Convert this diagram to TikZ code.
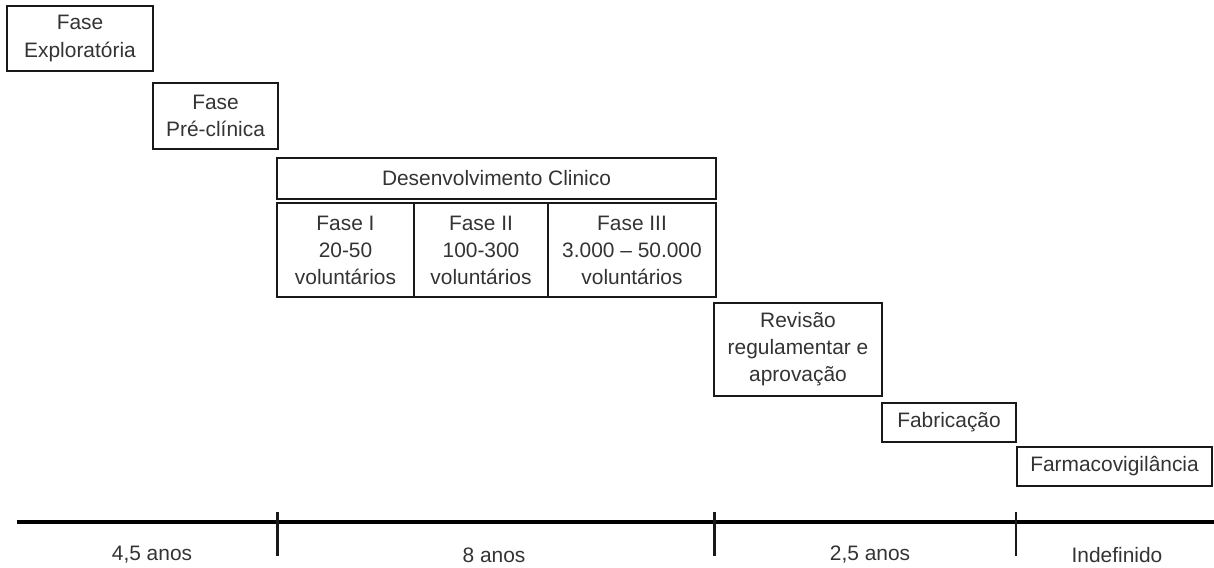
\documentclass[tikz,border=0pt]{standalone}
\usepackage{fontspec}
\setmainfont{Liberation Sans}
\usepackage{tikz}
\usetikzlibrary{positioning,calc}

\begin{document}
\begin{tikzpicture}[
    every node/.style={font=\fontsize{11.9}{15.4}\selectfont, text=black!80, align=center, inner sep=0pt},
    fase/.style={draw=black!90, line width=1.1pt},
    axis/.style={line width=2pt, black},
    tick/.style={line width=1.4pt, black!90},
    dur/.style={anchor=center}
]
\useasboundingbox (0,0) rectangle (24.28,-11.34);

% Fases iniciais
\node[fase, minimum width=2.92cm, minimum height=1.30cm] (expl) at (1.60,-0.77) {Fase\\Exploratória};
\node[fase, minimum width=2.50cm, minimum height=1.32cm] (pre)  at (4.31,-2.32) {Fase\\Pré-clínica};

% Desenvolvimento clinico
\node[fase, minimum width=8.78cm, minimum height=0.82cm] (desenv) at (9.93,-3.57) {Desenvolvimento Clinico};
\node[fase, minimum width=2.74cm, minimum height=1.88cm] (f1) at (6.91,-5.00) {Fase I\\20-50\\voluntários};
\node[fase, minimum width=2.68cm, minimum height=1.88cm] (f2) at (9.62,-5.00) {Fase II\\100-300\\voluntários};
\node[fase, minimum width=3.36cm, minimum height=1.88cm] (f3) at (12.64,-5.00) {Fase III\\3.000 -- 50.000\\voluntários};

% Fases finais
\node[fase, minimum width=3.36cm, minimum height=1.86cm] (rev)  at (15.96,-6.99) {Revisão\\regulamentar e\\aprovação};
\node[fase, minimum width=2.68cm, minimum height=0.78cm] (fab)  at (18.98,-8.45) {Fabricação};
\node[fase, minimum width=3.90cm, minimum height=0.78cm] (farm) at (22.29,-9.33) {Farmacovigilância};

% Linha do tempo
\coordinate (t0) at (0.34,-10.44);
\coordinate (t1) at (24.28,-10.44);
\draw[axis] (t0) -- (t1);
\foreach \x in {5.55,14.29,20.32}
    \draw[tick] (\x,-10.24) -- (\x,-11.12);

\node[dur] (d1) at (3.04,-11.10)  {4,5 anos};
\node[dur] (d2) at (9.88,-11.10)  {8 anos};
\node[dur] (d3) at (17.40,-11.10) {2,5 anos};
\node[dur] (d4) at (22.34,-11.10) {Indefinido};
\end{tikzpicture}
\end{document}
